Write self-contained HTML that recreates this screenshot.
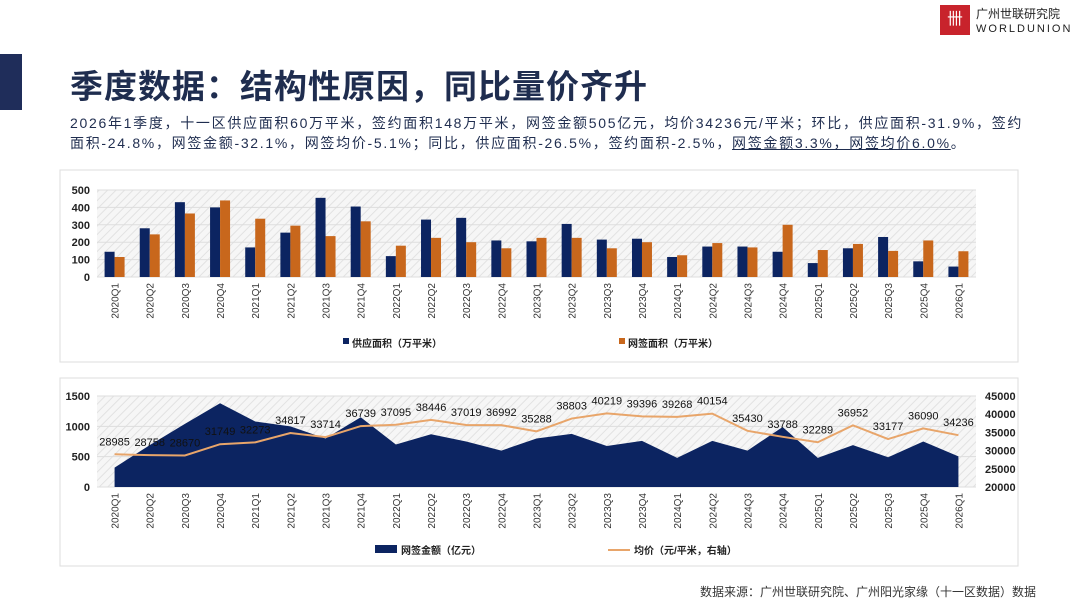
<!DOCTYPE html>
<html><head><meta charset="utf-8"><style>
body{margin:0;width:1080px;height:608px;background:#fff;font-family:"Liberation Sans","Noto Sans CJK SC",sans-serif;position:relative;overflow:hidden}
.t{position:absolute}
</style></head><body>
<div class="t" style="left:0;top:54px;width:22px;height:56px;background:#1f2d5a"></div>
<div class="t" style="left:70px;top:60px;font-size:33px;font-weight:bold;color:#1f2d4f;letter-spacing:1px">季度数据：结构性原因，同比量价齐升</div>
<div class="t" style="left:70px;top:113px;white-space:nowrap;font-size:14px;letter-spacing:1.7px;line-height:20px;color:#1f2d4f">2026年1季度，十一区供应面积60万平米，签约面积148万平米，网签金额505亿元，均价34236元/平米；环比，供应面积-31.9%，签约<br>面积-24.8%，网签金额-32.1%，网签均价-5.1%；同比，供应面积-26.5%，签约面积-2.5%，<span style="text-decoration:underline">网签金额3.3%，网签均价6.0%</span>。</div>
<div class="t" style="left:940px;top:5px;width:30px;height:30px;background:#c8232c;color:#fff;font-size:16px;text-align:center;line-height:30px">卌</div>
<div class="t" style="left:976px;top:7px;font-size:12px;color:#222;line-height:14px">广州世联研究院<br><span style="letter-spacing:2px;font-size:11px">WORLDUNION</span></div>
<div class="t" style="left:700px;top:583px;font-size:12px;color:#333">数据来源：广州世联研究院、广州阳光家缘（十一区数据）数据</div>
<svg class="t" style="left:0;top:0" width="1080" height="608">
<defs><pattern id="h" width="6" height="6" patternUnits="userSpaceOnUse" patternTransform="rotate(45)"><rect width="6" height="6" fill="#f6f6f6"/><line x1="0" y1="0" x2="0" y2="6" stroke="#e2e2e2" stroke-width="2"/></pattern></defs>
<rect x="60" y="170" width="958" height="192" fill="none" stroke="#ddd"/>
<rect x="60" y="378" width="958" height="188" fill="none" stroke="#ddd"/>
<g id="top"></g><g id="bot"></g>
</svg>
<script>
const cats=["2020Q1","2020Q2","2020Q3","2020Q4","2021Q1","2021Q2","2021Q3","2021Q4","2022Q1","2022Q2","2022Q3","2022Q4","2023Q1","2023Q2","2023Q3","2023Q4","2024Q1","2024Q2","2024Q3","2024Q4","2025Q1","2025Q2","2025Q3","2025Q4","2026Q1"];
const supply=[145,280,430,400,170,255,455,405,120,330,340,210,205,305,215,220,115,175,175,145,80,165,230,90,60];
const signed=[115,245,365,440,335,295,235,320,180,225,200,165,225,225,165,200,125,195,170,300,155,190,150,210,148];
const amount=[320,690,1040,1380,1080,1000,800,1150,700,870,750,600,800,875,676,760,480,760,600,990,480,690,490,750,505];
const price=[28985,28758,28670,31749,32273,34817,33714,36739,37095,38446,37019,36992,35288,38803,40219,39396,39268,40154,35430,33788,32289,36952,33177,36090,34236];
const topTicks=[0,100,200,300,400,500];
const leftTicks=[0,500,1000,1500];
const rightTicks=[20000,25000,30000,35000,40000,45000];
const NS="http://www.w3.org/2000/svg";
function mk(p,tag,a){const e=document.createElementNS(NS,tag);for(const k in a)e.setAttribute(k,a[k]);p.appendChild(e);return e;}
const X0=97,X1=976,bw=(X1-X0)/cats.length;
const xc=i=>X0+bw*(i+0.5);
const T=document.getElementById('top');
const ty=v=>277-v*(87/500);
let bg=mk(T,'rect',{x:X0,y:ty(500),width:X1-X0,height:ty(0)-ty(500),fill:'url(#h)'});

topTicks.forEach(v=>{mk(T,'line',{x1:X0,x2:X1,y1:ty(v),y2:ty(v),stroke:'#ddd'});
let t=mk(T,'text',{x:90,y:ty(v)+4,'text-anchor':'end','font-size':11,fill:'#222','font-weight':'bold'});t.textContent=v;
});
cats.forEach((c,i)=>{
let b=mk(T,'rect',{x:xc(i)-10,y:ty(supply[i]),width:10,height:ty(0)-ty(supply[i]),fill:'#0c2461'});

let s=mk(T,'rect',{x:xc(i),y:ty(signed[i]),width:10,height:ty(0)-ty(signed[i]),fill:'#c8671c'});

let t=mk(T,'text',{x:0,y:0,'font-size':10,fill:'#333','text-anchor':'end',transform:`translate(${xc(i)+4},283) rotate(-90)`});t.textContent=c;
});
function leg(p,x,y,col,txt,line,name){let g=mk(p,'g',{});
if(line)mk(g,'line',{x1:x,x2:x+22,y1:y-4,y2:y-4,stroke:col,'stroke-width':2});else mk(g,'rect',{x:x,y:y-9,width:line===0?22:6,height:line===0?8:6,fill:col});
let t=mk(g,'text',{x:x+(line||line===0?26:9),y:y,'font-size':10,'font-weight':'bold',fill:'#222'});t.textContent=txt;}
leg(T,343,347,'#0c2461','供应面积（万平米）',false,'legend-supply');
leg(T,619,347,'#c8671c','网签面积（万平米）',false,'legend-signed');
const B=document.getElementById('bot');
const by=v=>487-v*(91/1500), ry=v=>487-(v-20000)*(91/25000);
bg=mk(B,'rect',{x:X0,y:by(1500),width:X1-X0,height:91,fill:'url(#h)'});

leftTicks.forEach(v=>{mk(B,'line',{x1:X0,x2:X1,y1:by(v),y2:by(v),stroke:'#ddd'});let t=mk(B,'text',{x:90,y:by(v)+4,'text-anchor':'end','font-size':11,fill:'#222','font-weight':'bold'});t.textContent=v;
});
rightTicks.forEach(v=>{let t=mk(B,'text',{x:985,y:ry(v)+4,'font-size':11,fill:'#222','font-weight':'bold'});t.textContent=v;
});
let d='M'+xc(0)+','+by(0)+amount.map((v,i)=>'L'+xc(i)+','+by(v)).join('')+'L'+xc(cats.length-1)+','+by(0)+'Z';
let a=mk(B,'path',{d:d,fill:'#0c2461'});
let pl=mk(B,'polyline',{points:price.map((v,i)=>xc(i)+','+ry(v)).join(' '),fill:'none',stroke:'#e8a56a','stroke-width':2});

cats.forEach((c,i)=>{let t=mk(B,'text',{x:xc(i),y:ry(price[i])-9,'text-anchor':'middle','font-size':11,fill:'#111'});t.textContent=price[i];

let k=mk(B,'text',{x:0,y:0,'font-size':10,fill:'#333','text-anchor':'end',transform:`translate(${xc(i)+4},493) rotate(-90)`});k.textContent=c;
});
leg(B,375,554,'#0c2461','网签金额（亿元）',0,'legend-amount');
leg(B,608,554,'#e8a56a','均价（元/平米，右轴）',true,'legend-price');
</script>
</body></html>
